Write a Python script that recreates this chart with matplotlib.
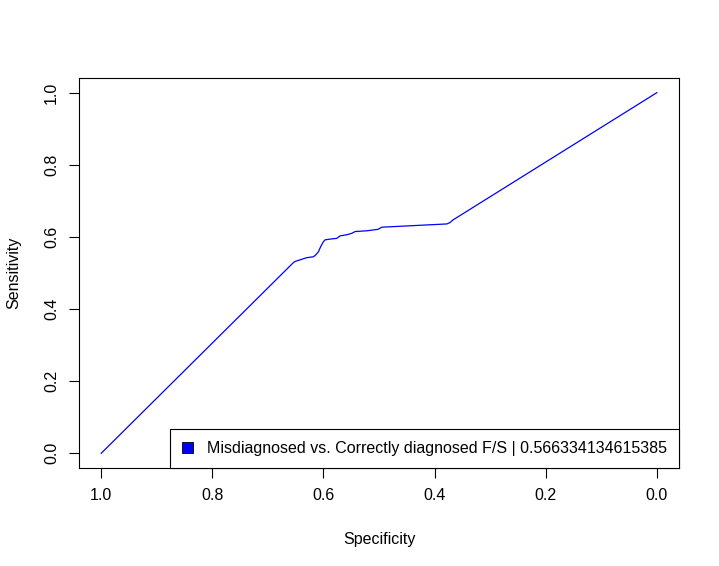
import matplotlib

matplotlib.use("Agg")
import matplotlib.pyplot as plt
from matplotlib.patches import Patch

plt.rcParams["font.family"] = ["Liberation Sans", "DejaVu Sans"]

# ROC curve (specificity runs from 1 down to 0)
specificity = [1.0, 0.654, 0.651, 0.639, 0.630, 0.618, 0.614, 0.609, 0.605,
               0.600, 0.597, 0.588, 0.576, 0.570, 0.558, 0.549, 0.543, 0.522,
               0.502, 0.495, 0.378, 0.372, 0.367, 0.0]
sensitivity = [0.0, 0.529, 0.532, 0.538, 0.5425, 0.545, 0.550, 0.559, 0.573,
               0.587, 0.592, 0.594, 0.596, 0.603, 0.606, 0.610, 0.615, 0.617,
               0.621, 0.627, 0.636, 0.640, 0.647, 1.0]
ticks = [1.0, 0.8, 0.6, 0.4, 0.2, 0.0]
legend_label = "Misdiagnosed vs. Correctly diagnosed F/S | 0.566334134615385"

fig = plt.figure(figsize=(7.19, 5.66), dpi=100)
ax = fig.add_axes([0.1099, 0.1737, 0.8345, 0.6880])

ax.plot(specificity, sensitivity, color="blue", lw=0.9)

ax.set_xlim(1.04, -0.04)
ax.set_ylim(-0.04, 1.04)
ax.set_xticks(ticks)
ax.set_yticks(ticks)
ax.set_xticklabels([f"{t:.1f}" for t in ticks])
ax.set_yticklabels([f"{t:.1f}" for t in ticks], rotation=90, va="center")
ax.tick_params(direction="out", length=7.5, width=0.8, labelsize=11.5, pad=7,
               color="black")
for sp in ax.spines.values():
    sp.set_linewidth(0.8)
    sp.set_color("black")

ax.set_xlabel("Specificity", fontsize=11.5, labelpad=21)
ax.set_ylabel("Sensitivity", fontsize=11.5, labelpad=16)

leg = ax.legend(handles=[Patch(facecolor="blue", edgecolor="black", lw=0.6,
                               label=legend_label)],
                loc="lower right", borderaxespad=0, fontsize=11.5,
                fancybox=False, framealpha=1, edgecolor="black",
                handlelength=0.7, handleheight=0.7, handletextpad=0.85,
                borderpad=0.75)
leg.get_frame().set_linewidth(0.8)

fig.savefig("out.png", dpi=100)
